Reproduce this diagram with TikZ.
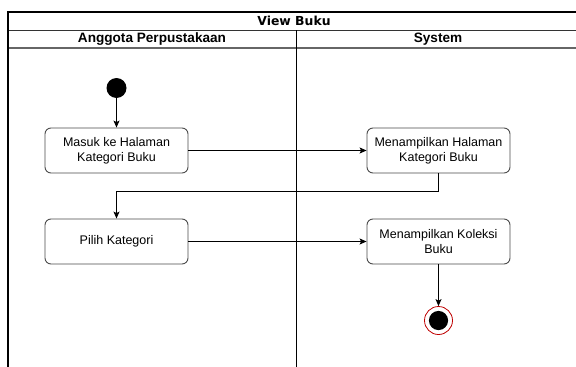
\documentclass[tikz,border=0pt]{standalone}
\usepackage{fontspec}
\setmainfont{Liberation Sans}
\newfontfamily\titlefont{DejaVu Sans}
\usetikzlibrary{arrows.meta,positioning}

\tikzset{
  action/.style={draw=black!70, line width=0.9pt, rounded corners=6pt, fill=white,
    minimum width=143pt, minimum height=45pt, align=center, inner sep=2pt,
    font=\fontsize{12.5}{15.3}\selectfont},
  flow/.style={draw=black, line width=0.9pt, -{Stealth[length=7pt,width=6pt,inset=1.6pt]}},
  lanehead/.style={font=\bfseries\fontsize{13.6}{16}\selectfont, inner sep=0pt},
  initial/.style={circle, fill=black, minimum size=20pt, inner sep=0pt},
  final/.style={circle, draw=red!75!black, line width=0.8pt, fill=white, minimum size=28pt, inner sep=0pt},
}

\begin{document}
\begin{tikzpicture}[x=1pt,y=-1pt]
  \useasboundingbox (0,0) rectangle (576,367);
  \fill[white] (0,0) rectangle (576,367);
  \clip (0,0) rectangle (576,367);

  % swimlane frame
  \draw[line width=0.9pt, black!80] (8,30) -- (580,30);
  \draw[line width=1.2pt, black!60] (8,48) -- (580,48);
  \draw[line width=0.9pt] (296,30) -- (296,380);
  \draw[line width=2.6pt] (8,380) -- (8,12) -- (580,12);

  % headers
  \node[font=\titlefont\bfseries\fontsize{12.4}{14}\selectfont, inner sep=0pt] (title) at (294,21) {View Buku};
  \node[lanehead] (laneA) at (152,39.5) {Anggota Perpustakaan};
  \node[lanehead] (laneS) at (438,39.5) {System};

  % activities
  \node[initial] (start) at (116.5,88) {};
  \node[action] (b1) at (116.5,150.5) {Masuk ke Halaman\\Kategori Buku};
  \node[action] (b2) at (438.5,150.5) {Menampilkan Halaman\\Kategori Buku};
  \node[action] (b3) at (116.5,241.5) {Pilih Kategori};
  \node[action] (b4) at (438.5,241.5) {Menampilkan Koleksi\\Buku};
  \node[final] (end) at (438.5,320.5) {};
  \fill[black] (end.center) circle (9.6pt);
  \coordinate (bend) at (438.5,191);

  % transitions
  \draw[flow] (start) -- (b1);
  \draw[flow] (b1) -- (b2);
  \draw[flow] (b2.south) -- (bend) -| (b3.north);
  \draw[flow] (b3) -- (b4);
  \draw[flow] (b4) -- (end);
\end{tikzpicture}
\end{document}
